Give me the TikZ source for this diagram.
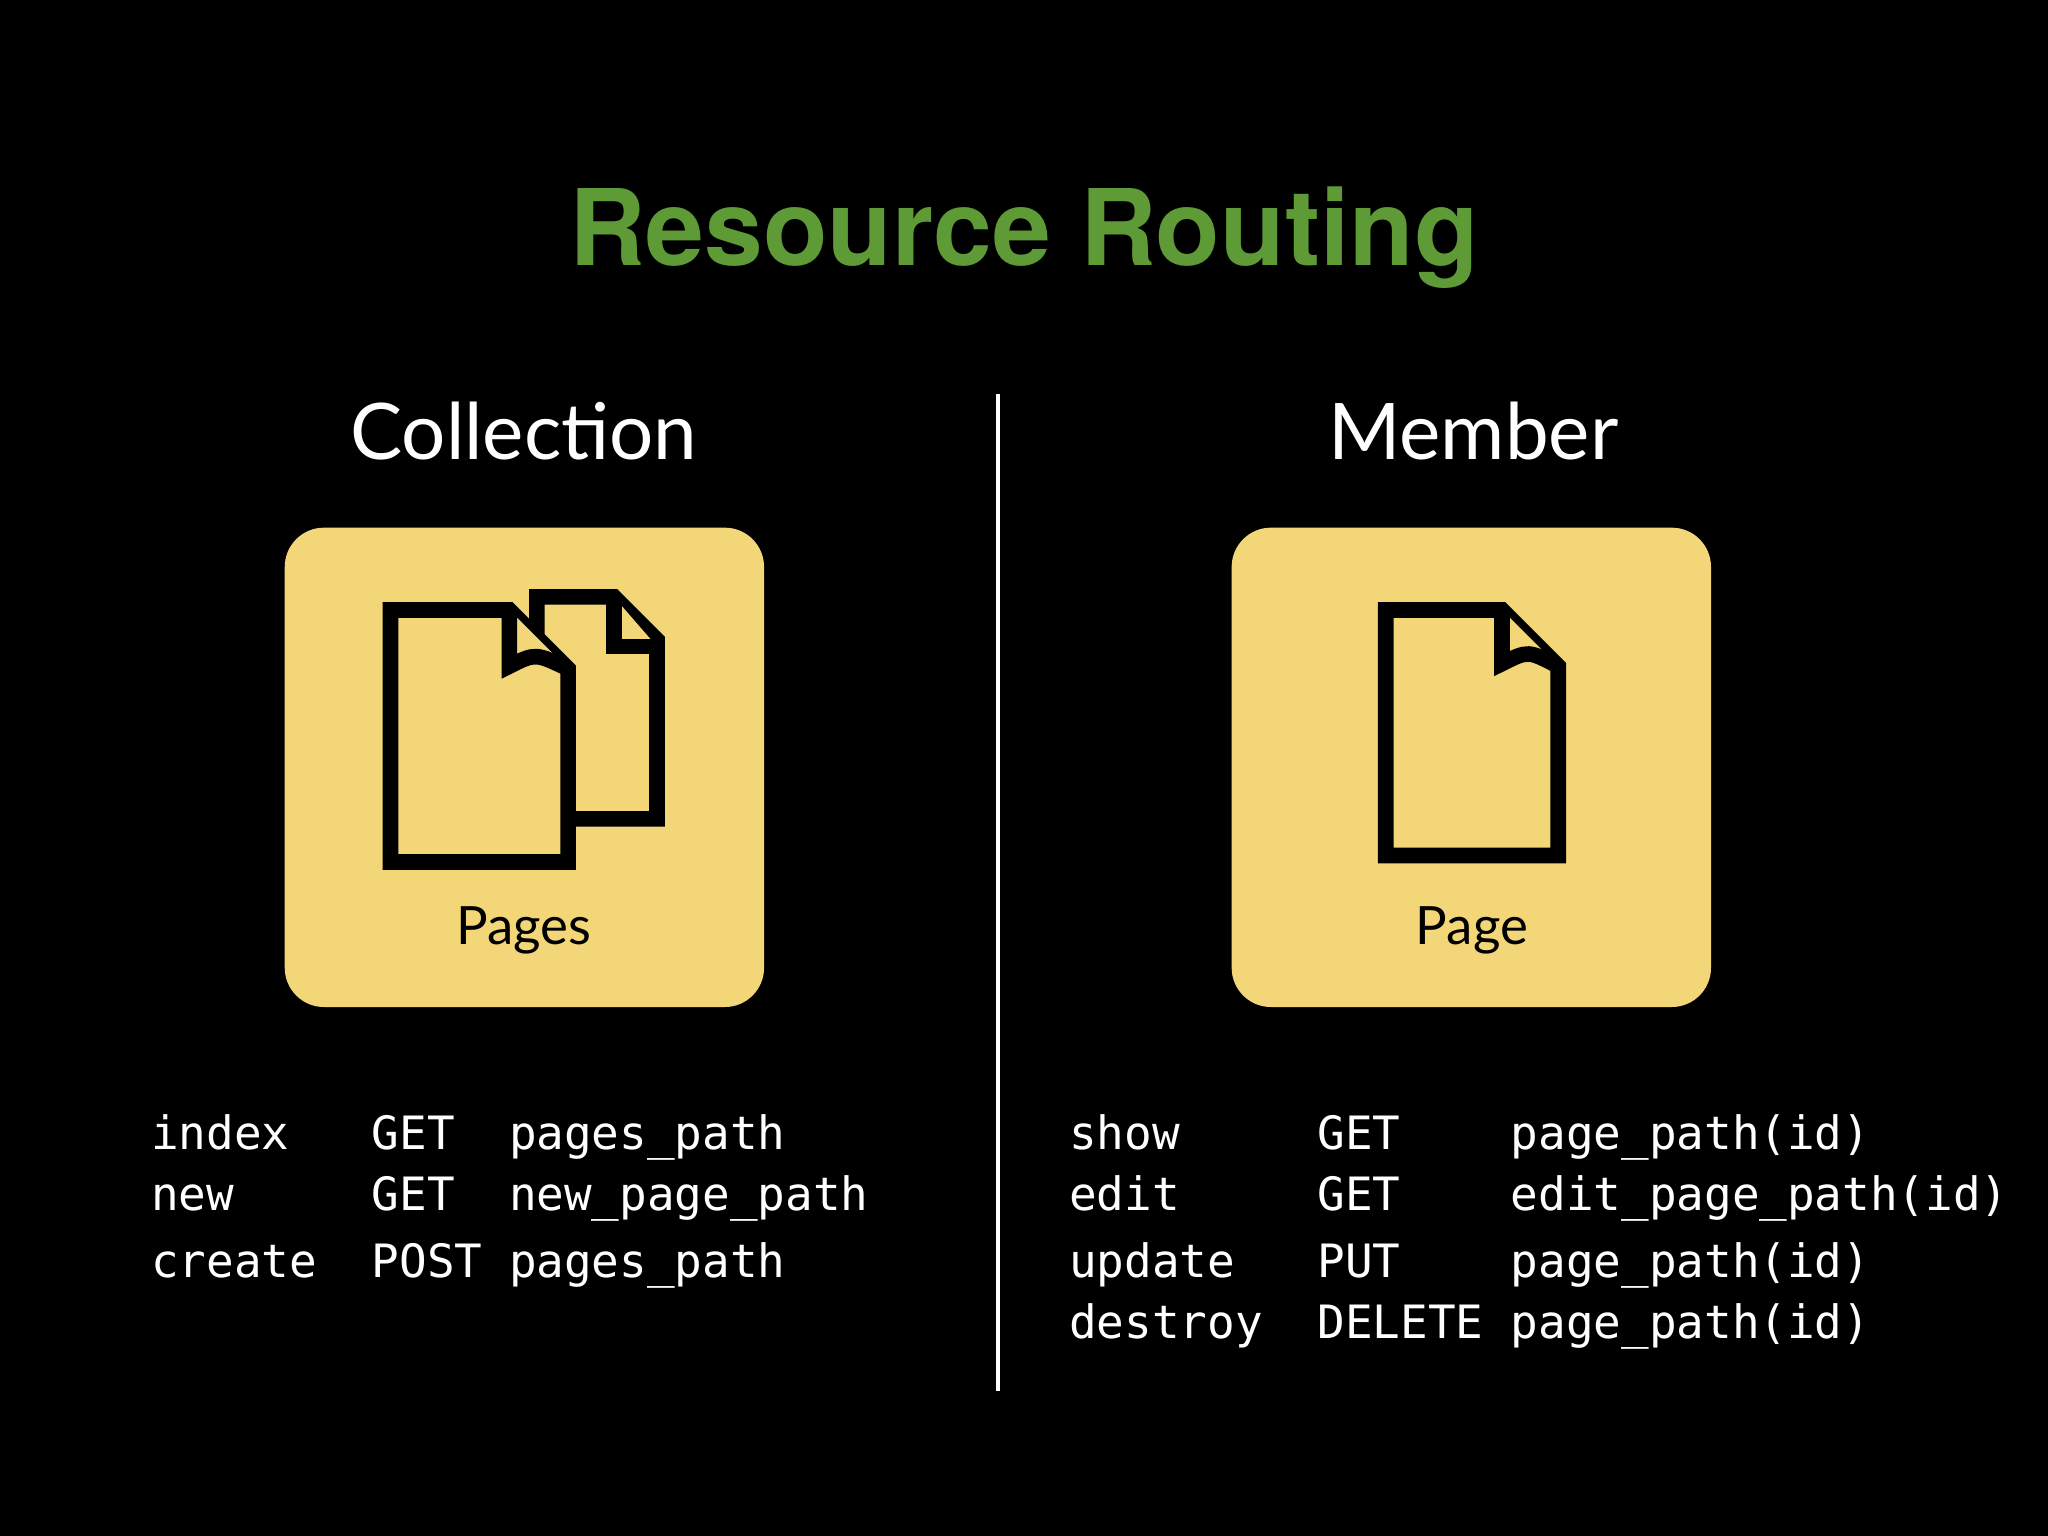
\documentclass[tikz,border=0pt]{standalone}
\usepackage{fontspec}
\setmainfont{Lato}
\setsansfont{TeX Gyre Heros}
\setmonofont{DejaVu Sans Mono}
\definecolor{ttl}{HTML}{5E9A35}
\definecolor{note}{HTML}{F2D677}
\begin{document}
\begin{tikzpicture}[x=0.01cm,y=-0.01cm,
  cell/.style={anchor=base west,text=white,font=\ttfamily\fontsize{10}{12}\selectfont,inner sep=0},
  card/.style={fill=note,rounded corners=0.3cm},
  pg/.style={draw=black,line width=3.4pt,fill=note,line join=miter},
  hdr/.style={text=white,font=\fontsize{17}{20}\selectfont}]
\fill[black] (0,0) rectangle (1568,1176);
\node[text=ttl,font=\sffamily\bfseries\fontsize{23}{27}\selectfont] (title) at (784,182) {Resource Routing};
\node[hdr] (coll) at (401,330) {Collection};
\node[hdr] (memb) at (1128,330) {Member};
\coordinate (d1) at (764,302); \coordinate (d2) at (764,1065);
\draw[white,line width=1pt] (d1) -- (d2);
% left card
\fill[card] (218,404) rectangle (585,771);
\draw[pg] (411,457)--(470,457)--(503,490)--(503,627)--(411,627)--cycle;
\draw[pg] (470,457)--(470,495)--(503,495);
\draw[pg] (299,467)--(390,467)--(435,512)--(435,660)--(299,660)--cycle;
\draw[pg] (390,467)--(390,510) .. controls (410,500) .. (435,512);
\node[font=\fontsize{11.5}{14}\selectfont] (lp) at (401,712) {Pages};
% right card
\fill[card] (943,404) rectangle (1310,771);
\draw[pg] (1061,467)--(1150,467)--(1193,510)--(1193,655)--(1061,655)--cycle;
\draw[pg] (1150,467)--(1150,508) .. controls (1170,498) .. (1193,510);
\node[font=\fontsize{11.5}{14}\selectfont] (rp) at (1127,712) {Page};
% left table
\node[cell] (a1) at (115,880) {index};
\node[cell] (a2) at (284,880) {GET};
\node[cell] (a3) at (389,880) {pages\_path};
\node[cell] (b1) at (115,927) {new};
\node[cell] (b2) at (284,927) {GET};
\node[cell] (b3) at (389,927) {new\_page\_path};
\node[cell] (c1) at (115,978) {create};
\node[cell] (c2) at (284,978) {POST};
\node[cell] (c3) at (389,978) {pages\_path};
% right table
\node[cell] (d1n) at (818,880) {show};
\node[cell] (d2n) at (1008,880) {GET};
\node[cell] (d3n) at (1156,880) {page\_path(id)};
\node[cell] (e1) at (818,927) {edit};
\node[cell] (e2) at (1008,927) {GET};
\node[cell] (e3) at (1156,927) {edit\_page\_path(id)};
\node[cell] (f1) at (818,978) {update};
\node[cell] (f2) at (1008,978) {PUT};
\node[cell] (f3) at (1156,978) {page\_path(id)};
\node[cell] (g1) at (818,1025) {destroy};
\node[cell] (g2) at (1008,1025) {DELETE};
\node[cell] (g3) at (1156,1025) {page\_path(id)};
\end{tikzpicture}
\end{document}
